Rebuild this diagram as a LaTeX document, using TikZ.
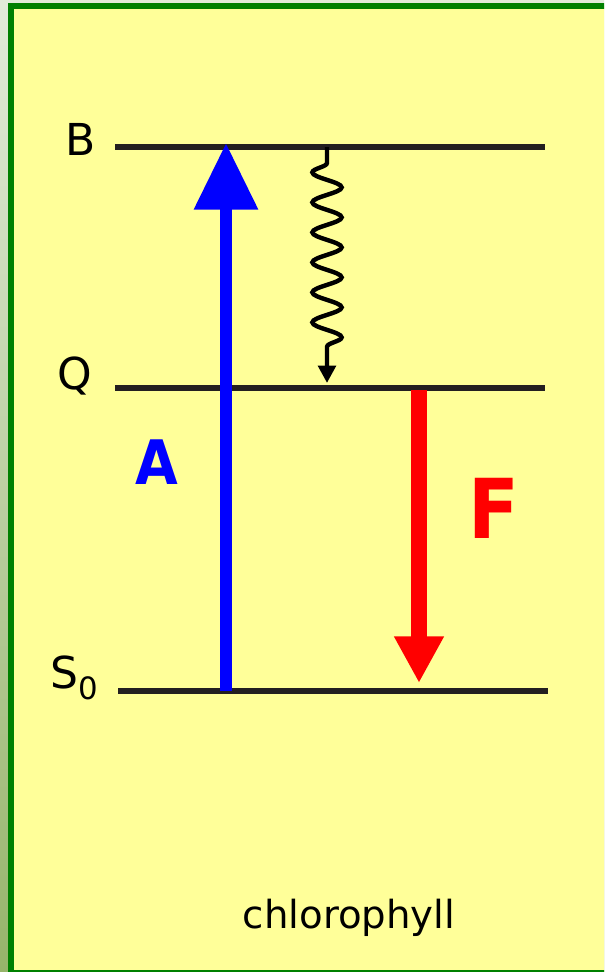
\documentclass[tikz,border=0pt]{standalone}
\usepackage{fontspec}
\setmainfont{DejaVu Sans}
\newfontfamily\narrowfont{DejaVu Sans Condensed}
\usetikzlibrary{positioning, calc, arrows.meta, decorations.pathmorphing}
\usepackage{xcolor}
\definecolor{PanelYellow}{HTML}{FFFF99}
\definecolor{FrameGreen}{HTML}{008000}
\definecolor{LevelInk}{HTML}{231F20}
\definecolor{PageTop}{HTML}{E2EBDA}
\definecolor{PageBottom}{HTML}{96B46A}

\begin{document}
\begin{tikzpicture}[
  x=0.75pt, y=-0.75pt,
  level/.style={draw=LevelInk, line width=4pt},
  lvlabel/.style={font=\fontsize{33}{36}\selectfont, text=black, inner sep=0pt},
  absorb/.style={draw=blue, line width=9pt, -{Triangle[length=50pt, width=46pt]}},
  fluor/.style={draw=red, line width=12pt, -{Triangle[length=35pt, width=35pt]}},
  relax/.style={draw=black, line width=3.3pt, -{Triangle[length=13pt, width=13pt]},
    decorate, decoration={snake, mirror, amplitude=11pt, segment length=22.5pt,
      pre length=12pt, post length=27pt}},
  letter/.style={font=\narrowfont\bfseries\fontsize{#1}{#1}\selectfont, inner sep=0pt}
]
  \useasboundingbox (0,0) rectangle (604,972);
  \clip (0,0) rectangle (604,972);
  \fill[top color=PageTop, bottom color=PageBottom] (0,0) rectangle (604,972);
  \filldraw[fill=PanelYellow, draw=FrameGreen, line width=4.5pt] (10.5,5.5) rectangle (610,972.5);

  % energy levels
  \coordinate (Bl) at (115,147);
  \coordinate (Br) at (545,147);
  \coordinate (Ql) at (115,388);
  \coordinate (Qr) at (545,388);
  \coordinate (Sl) at (118,691);
  \coordinate (Sr) at (548,691);
  \draw[level] (Bl) -- (Br);
  \draw[level] (Ql) -- (Qr);
  \draw[level] (Sl) -- (Sr);

  \node[lvlabel] (lB) at (81,139) {B};
  \node[lvlabel] (lQ) at (75,376) {Q};
  \node[lvlabel] (lS) at (75,678) {S\textsubscript{0}};

  % transitions
  \coordinate (Abot) at (226,691);
  \coordinate (Atop) at (226,143);
  \coordinate (Wtop) at (327,147);
  \coordinate (Wbot) at (327,383);
  \coordinate (Ftop) at (419,390);
  \coordinate (Fbot) at (419,683);
  \draw[absorb] (Abot) -- (Atop);
  \draw[relax] (Wtop) -- (Wbot);
  \draw[fluor] (Ftop) -- (Fbot);

  \node[letter=46, text=blue] (lA) at (157,462) {A};
  \node[letter=62, text=red] (lF) at (494,508) {F};

  \node[font=\fontsize{29}{32}\selectfont, anchor=base] (mol) at (349,928) {chlorophyll};
\end{tikzpicture}
\end{document}
